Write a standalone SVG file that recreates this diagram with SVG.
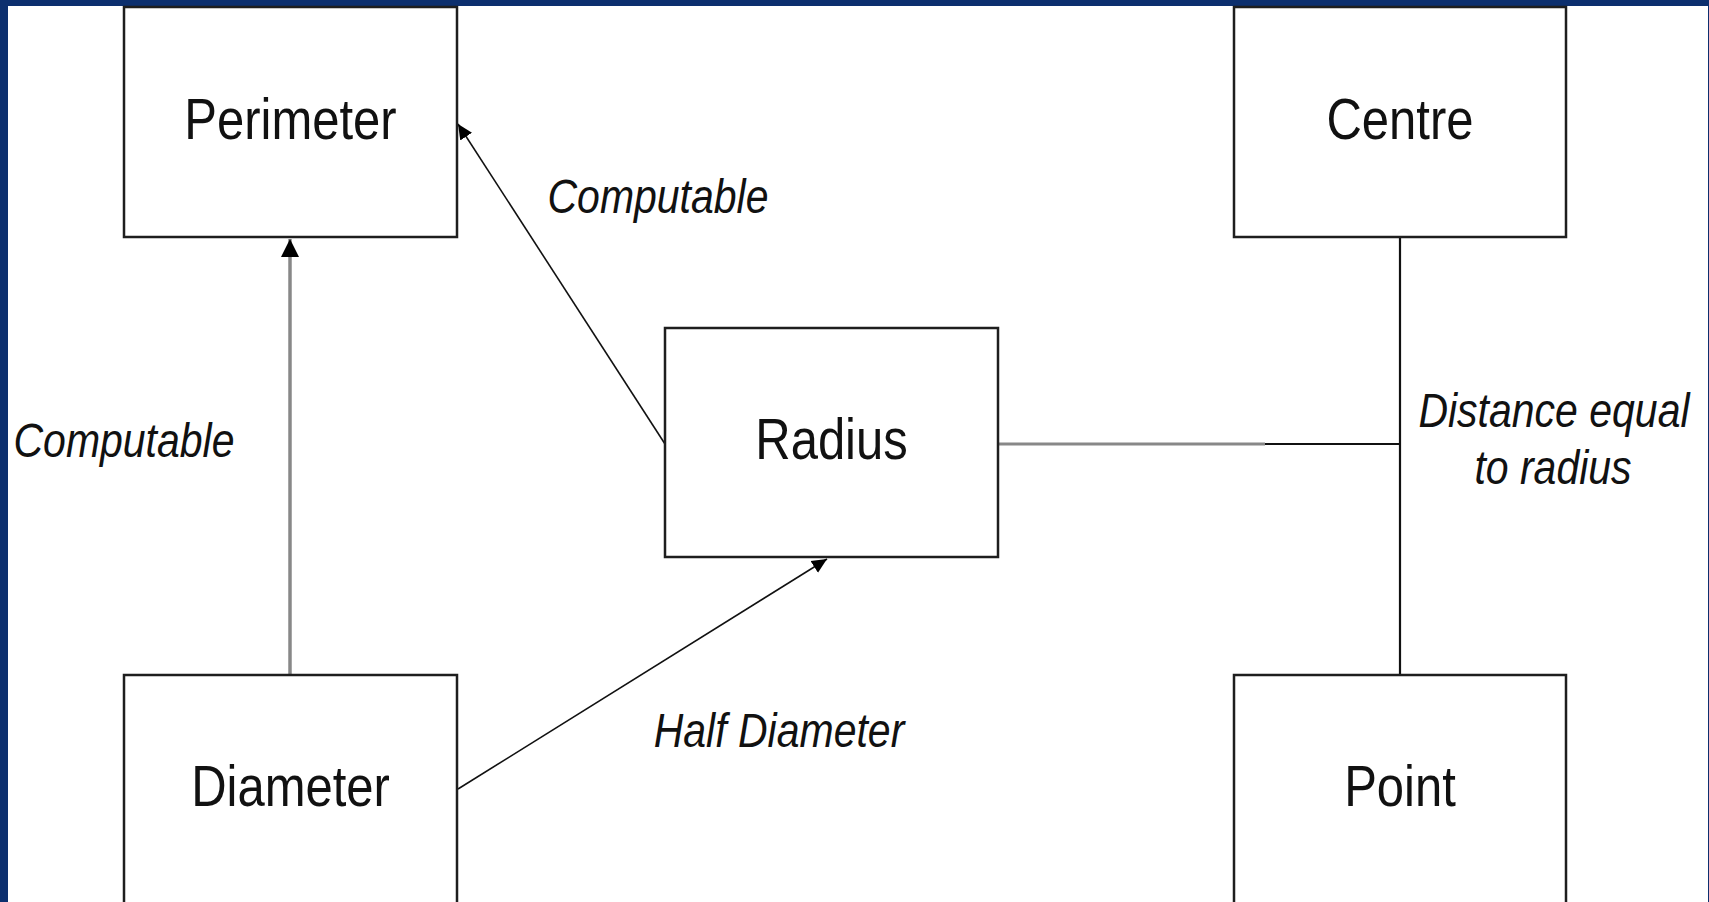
<svg xmlns="http://www.w3.org/2000/svg" width="1709" height="902" viewBox="0 0 1709 902">
<style>
.box{fill:#fff;stroke:#1e1e1e;stroke-width:2.5}
.nt{font-family:"Liberation Sans",Arial,sans-serif;font-size:49px;fill:#111;text-anchor:middle}
.lb{font-family:"Liberation Sans",Arial,sans-serif;font-size:41px;font-style:italic;fill:#111;text-anchor:middle}
</style>
<defs>
<marker id="ah" markerWidth="20" markerHeight="20" refX="18" refY="10" orient="auto" markerUnits="userSpaceOnUse">
<path d="M0,1 L18,10 L0,19 Z" fill="#000"/>
</marker>
<marker id="ah2" markerWidth="16" markerHeight="16" refX="15" refY="8" orient="auto" markerUnits="userSpaceOnUse">
<path d="M0,1 L15,8 L0,15 Z" fill="#000"/>
</marker>
</defs>
<rect x="0" y="0" width="1709" height="902" fill="#0c2f6e"/>
<rect x="8" y="6" width="1700" height="896" fill="#fff"/>
<g id="connectors" fill="none">
<line x1="290" y1="675" x2="290" y2="239" stroke="#888" stroke-width="3.5" marker-end="url(#ah)"/>
<line x1="665" y1="444" x2="458" y2="124" stroke="#111" stroke-width="1.6" marker-end="url(#ah2)"/>
<line x1="458" y1="789" x2="827" y2="559" stroke="#111" stroke-width="1.6" marker-end="url(#ah2)"/>
<line x1="998" y1="444" x2="1265" y2="444" stroke="#888" stroke-width="3"/>
<line x1="1265" y1="444" x2="1400" y2="444" stroke="#111" stroke-width="2"/>
<line x1="1400" y1="237" x2="1400" y2="675" stroke="#111" stroke-width="2.2"/>
</g>
<g id="perimeter">
<rect class="box" x="124" y="7" width="333" height="230"/>
<text class="nt" transform="translate(290.5,139) scale(1,1.18)">Perimeter</text>
</g>
<g id="centre">
<rect class="box" x="1234" y="7" width="332" height="230"/>
<text class="nt" transform="translate(1400,139) scale(1,1.18)">Centre</text>
</g>
<g id="radius">
<rect class="box" x="665" y="328" width="333" height="229"/>
<text class="nt" transform="translate(831.5,459) scale(1,1.18)">Radius</text>
</g>
<g id="diameter">
<rect class="box" x="124" y="675" width="333" height="240"/>
<text class="nt" transform="translate(290.5,806) scale(1,1.18)">Diameter</text>
</g>
<g id="point">
<rect class="box" x="1234" y="675" width="332" height="240"/>
<text class="nt" transform="translate(1400,806) scale(1,1.18)">Point</text>
</g>
<g id="labels">
<text class="lb" transform="translate(658,213) scale(1,1.15)">Computable</text>
<text class="lb" transform="translate(124,457) scale(1,1.15)">Computable</text>
<text class="lb" transform="translate(779,747) scale(1,1.15)">Half Diameter</text>
<text class="lb" transform="translate(1554,427) scale(1,1.15)">Distance equal</text>
<text class="lb" transform="translate(1553,484) scale(1,1.15)">to radius</text>
</g>
</svg>
